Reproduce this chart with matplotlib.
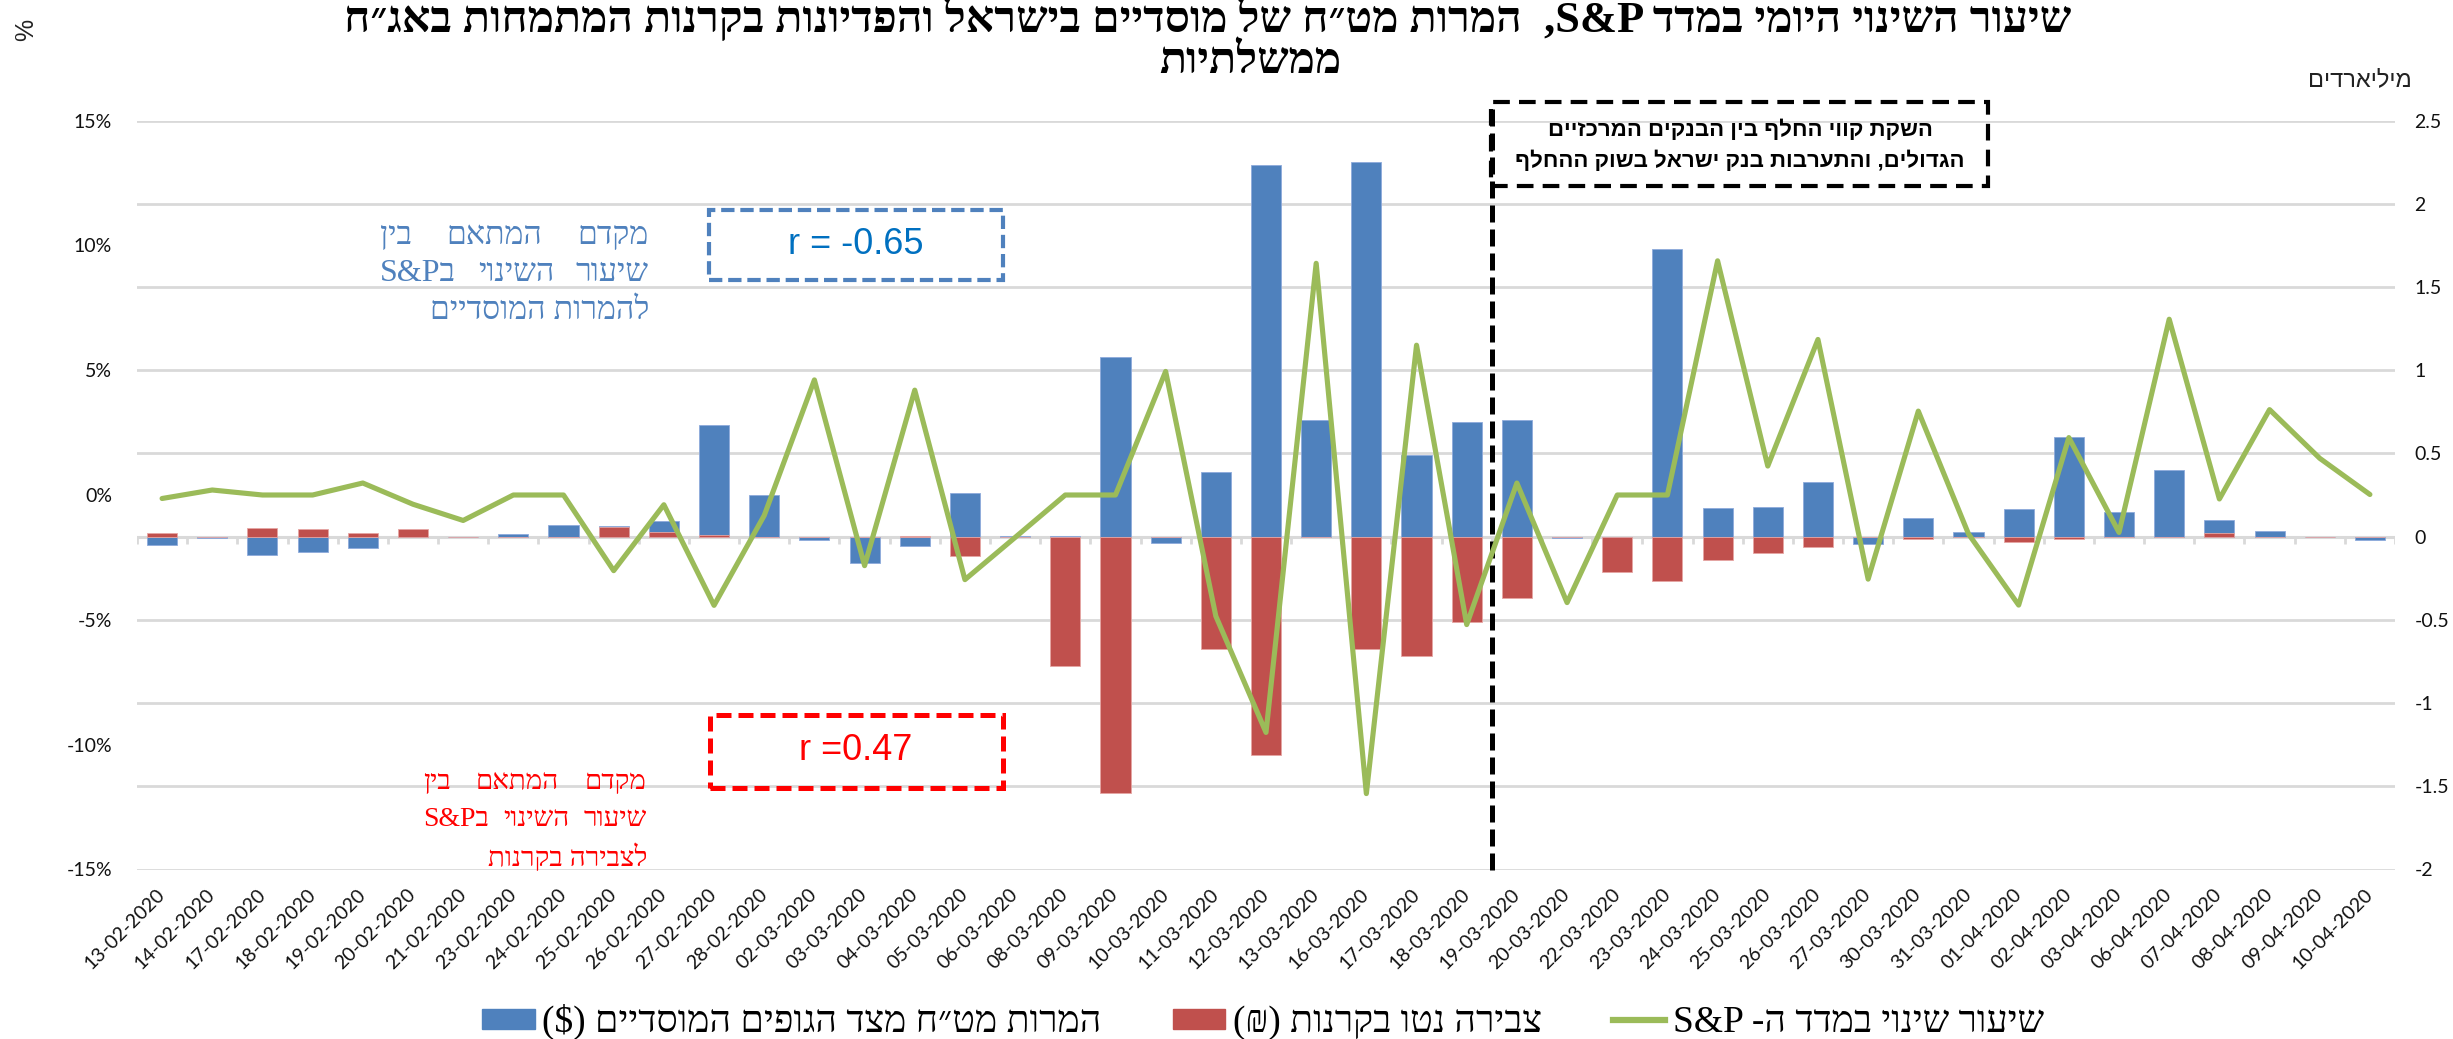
import re
import numpy as np
import matplotlib
matplotlib.use("Agg")
import matplotlib.pyplot as plt
from matplotlib.patches import Rectangle, Patch
from matplotlib.lines import Line2D

# ---------------- data ----------------
dates = ["13-02-2020", "14-02-2020", "17-02-2020", "18-02-2020", "19-02-2020",
         "20-02-2020", "21-02-2020", "23-02-2020", "24-02-2020", "25-02-2020",
         "26-02-2020", "27-02-2020", "28-02-2020", "02-03-2020", "03-03-2020",
         "04-03-2020", "05-03-2020", "06-03-2020", "08-03-2020", "09-03-2020",
         "10-03-2020", "11-03-2020", "12-03-2020", "13-03-2020", "16-03-2020",
         "17-03-2020", "18-03-2020", "19-03-2020", "20-03-2020", "22-03-2020",
         "23-03-2020", "24-03-2020", "25-03-2020", "26-03-2020", "27-03-2020",
         "30-03-2020", "31-03-2020", "01-04-2020", "02-04-2020", "03-04-2020",
         "06-04-2020", "07-04-2020", "08-04-2020", "09-04-2020", "10-04-2020"]

# FX conversions by institutional investors ($ billions) - right axis
fx_conversions = [-0.05, -0.01, -0.11, -0.09, -0.07, 0.0, 0.0, 0.015, 0.07, 0.065,
                  0.095, 0.67, 0.25, -0.02, -0.16, -0.055, 0.26, 0.005, 0.005, 1.08,
                  -0.04, 0.39, 2.23, 0.70, 2.25, 0.49, 0.69, 0.70, -0.01, 0.0,
                  1.73, 0.17, 0.18, 0.33, -0.045, 0.11, 0.03, 0.165, 0.60, 0.15,
                  0.40, 0.10, 0.035, 0.0, -0.02]

# Net accumulation in funds (NIS billions) - right axis
fund_flows = [0.02, 0.0, 0.05, 0.045, 0.02, 0.045, 0.0, 0.0, 0.0, 0.055,
              0.025, 0.01, 0.0, 0.0, 0.0, 0.005, -0.115, 0.0, -0.78, -1.54,
              0.0, -0.675, -1.31, 0.0, -0.675, -0.715, -0.515, -0.37, 0.0, -0.21,
              -0.265, -0.14, -0.10, -0.065, 0.0, -0.015, 0.0, -0.03, -0.015, 0.0,
              -0.005, 0.02, 0.0, 0.0, 0.0]

# Daily change in S&P (%) - left axis
sp_change = [-0.14, 0.2, 0.0, 0.0, 0.48, -0.37, -1.02, 0.0, 0.0, -3.03,
             -0.39, -4.42, -0.82, 4.61, -2.83, 4.2, -3.39, -1.7, 0.0, 0.0,
             4.95, -4.85, -9.51, 9.28, -11.96, 6.0, -5.19, 0.48, -4.31, 0.0,
             0.0, 9.38, 1.16, 6.23, -3.37, 3.36, -1.56, -4.41, 2.3, -1.5,
             7.04, -0.16, 3.42, 1.47, 0.02]

left_ticks = [-15, -10, -5, 0, 5, 10, 15]
right_ticks = [-2, -1.5, -1, -0.5, 0, 0.5, 1, 1.5, 2, 2.5]

# ---------------- text ----------------
title_l1 = "שיעור השינוי היומי במדד S&P,  המרות מט״ח של מוסדיים בישראל והפדיונות בקרנות המתמחות באג״ח"
title_l2 = "ממשלתיות"
right_axis_title = "מיליארדים"
leg_fx = "המרות מט״ח מצד הגופים המוסדיים ($)"
leg_flow = "צבירה נטו בקרנות (₪)"
leg_sp = "שיעור שינוי במדד ה- S&P"
box_l1 = "השקת קווי החלף בין הבנקים המרכזיים"
box_l2 = "הגדולים, והתערבות בנק ישראל בשוק ההחלף"
blue_note = ["מקדם המתאם בין", "שיעור השינוי בS&P", "להמרות המוסדיים"]
red_note = ["מקדם המתאם בין", "שיעור השינוי בS&P", "לצבירה בקרנות"]
r_blue = "r = -0.65"
r_red = "r =0.47"

LTR = re.compile(r"[A-Za-z0-9&$%]+(?:[ .\-=]+[A-Za-z0-9&$%]+)*")
MIRROR = {"(": ")", ")": "("}


def vis(s):
    """Convert logical RTL text into visual (left-to-right glyph) order."""
    parts, pos = [], 0
    for m in LTR.finditer(s):
        if m.start() > pos:
            parts.append(("r", s[pos:m.start()]))
        parts.append(("l", m.group()))
        pos = m.end()
    if pos < len(s):
        parts.append(("r", s[pos:]))
    out = ""
    for kind, t in reversed(parts):
        if kind == "l":
            out += t
        else:
            out += "".join(MIRROR.get(c, c) for c in reversed(t))
    return out


SERIF = ["Liberation Serif", "DejaVu Sans"]
SANS = ["Liberation Sans", "DejaVu Sans"]
NUM = ["Lato", "DejaVu Sans"]

BLUE = "#4F81BD"
RED = "#C0504D"
GREEN = "#9BBB59"
GRID = "#D9D9D9"

W, H = 2453, 1039
fig = plt.figure(figsize=(W / 100, H / 100), dpi=100)
fig.patch.set_facecolor("white")


def fx_(px):
    return px / W


def fy_(py):
    return 1 - py / H


L, R = 137, 2395
TOP, BOT = 120.5, 869.5
ax = fig.add_axes([fx_(L), fy_(BOT), (R - L) / W, (BOT - TOP) / H])
x = np.arange(len(dates))

ax.bar(x, fx_conversions, width=0.6, color=BLUE, edgecolor="#8EAADB", linewidth=0.6, zorder=2)
ax.bar(x, fund_flows, width=0.6, color=RED, edgecolor="#E6A5A3", linewidth=0.6, zorder=3)
ax.set_xlim(-0.5, len(dates) - 0.5)
ax.set_ylim(-2, 2.5)
ax.set_axisbelow(True)
ax.grid(axis="y", color=GRID, linewidth=2)
ax.axhline(0, color=GRID, linewidth=2.2, zorder=1)
ax.vlines(x - 0.5, -0.045, 0, color=GRID, linewidth=2, zorder=1)
ax.vlines([x[-1] + 0.5], -0.045, 0, color=GRID, linewidth=2, zorder=1)
for sp in ax.spines.values():
    sp.set_visible(False)
ax.set_xticks(x)
ax.set_xticklabels(dates, rotation=45, ha="right", va="center", rotation_mode="anchor",
                   fontsize=14, family=NUM, color="#111111")
ax.tick_params(axis="x", length=0, pad=16)

ax2 = ax.twinx()
ax2.plot(x, sp_change, color=GREEN, linewidth=3.7, solid_joinstyle="round",
         solid_capstyle="round", zorder=5)
ax2.set_ylim(-15, 15)
ax2.set_yticks(left_ticks)
ax2.set_yticklabels([f"{v}%" for v in left_ticks], fontsize=14, family=NUM, color="#111111")
ax2.yaxis.tick_left()
ax2.tick_params(axis="y", length=0, pad=18)
for sp in ax2.spines.values():
    sp.set_visible(False)

# right axis (bars) ticks - after twinx
ax.yaxis.tick_right()
ax.set_yticks(right_ticks)
ax.set_yticklabels([f"{v:g}" for v in right_ticks], fontsize=14, family=NUM, color="#111111")
ax.tick_params(axis="y", which="both", left=False, labelleft=False,
               right=False, labelright=True, length=0, pad=14)

# vertical dashed separator (between 18-03 and 19-03)
ax.axvline(26.5, ymin=0, ymax=(BOT - 102) / (BOT - TOP), color="black",
           linewidth=3.6, linestyle=(0, (3.4, 1.4)), clip_on=False, zorder=6)

# ---------------- titles ----------------
fig.text(fx_(1208), fy_(18), vis(title_l1), ha="center", va="center",
         fontsize=32, fontweight="bold", family=SERIF)
fig.text(fx_(1250), fy_(62), vis(title_l2), ha="center", va="center",
         fontsize=32, fontweight="bold", family=SERIF)
fig.text(fx_(26), fy_(30), "%", rotation=90, ha="center", va="center",
         fontsize=18, family=SANS, color="#222222")
fig.text(fx_(2360), fy_(80), vis(right_axis_title), ha="center", va="center",
         fontsize=17, family=SANS, color="#222222")

# ---------------- annotation boxes ----------------
def fig_box(x0, y0, x1, y1, color, lw, ls):
    rect = Rectangle((fx_(x0), fy_(y1)), (x1 - x0) / W, (y1 - y0) / H,
                     transform=fig.transFigure, fill=False, edgecolor=color,
                     linewidth=lw, linestyle=ls, zorder=7)
    fig.add_artist(rect)


fig_box(1491, 102, 1988, 186, "black", 3.0, (0, (4, 2.2)))
fig.text(fx_(1740), fy_(130), vis(box_l1), ha="center", va="center",
         fontsize=16, fontweight="bold", family=SANS)
fig.text(fx_(1740), fy_(161), vis(box_l2), ha="center", va="center",
         fontsize=16, fontweight="bold", family=SANS)

fig_box(709, 210, 1003, 280, BLUE, 3.0, (0, (3.2, 1.4)))
fig.text(fx_(856), fy_(244), r_blue, ha="center", va="center",
         fontsize=26, family=SANS, color="#0070C0")
fig_box(710, 715, 1003, 788, "#FF0000", 3.6, (0, (3.0, 1.4)))
fig.text(fx_(856), fy_(751), r_red, ha="center", va="center",
         fontsize=26, family=SANS, color="#FF0000")

renderer = fig.canvas.get_renderer()


def justified(lines, right_px, left_px, ys, color, fontsize, justify):
    for line, y, just in zip(lines, ys, justify):
        if not just:
            fig.text(fx_(right_px), fy_(y), vis(line), ha="right", va="center",
                     fontsize=fontsize, family=SERIF, color=color)
            continue
        words = line.split()
        texts = [fig.text(0, fy_(y), vis(wd), ha="left", va="center",
                          fontsize=fontsize, family=SERIF, color=color) for wd in words]
        widths = [t.get_window_extent(renderer).width for t in texts]
        gap = ((right_px - left_px) - sum(widths)) / (len(words) - 1)
        cur = right_px
        for t, wdt in zip(texts, widths):
            t.set_x(fx_(cur - wdt))
            cur -= wdt + gap


justified(blue_note, 649, 380, [236, 274, 311], BLUE, 23, [True, True, False])
justified(red_note, 647, 423, [782, 820, 858], "#FF0000", 20, [True, True, False])

# ---------------- legend ----------------
handles = [Patch(facecolor=BLUE, edgecolor=BLUE),
           Patch(facecolor=RED, edgecolor=RED),
           Line2D([0], [0], color=GREEN, linewidth=4.5)]
labels = [vis(leg_fx), vis(leg_flow), vis(leg_sp)]
fig.legend(handles, labels, loc="center", bbox_to_anchor=(fx_(1263), fy_(1022)),
           ncol=3, frameon=False, prop={"family": SERIF, "size": 27},
           handlelength=1.4, handleheight=0.45, handletextpad=0.2, columnspacing=1.9,
           borderaxespad=0, borderpad=0)

fig.savefig("out.png", dpi=100, facecolor="white")
